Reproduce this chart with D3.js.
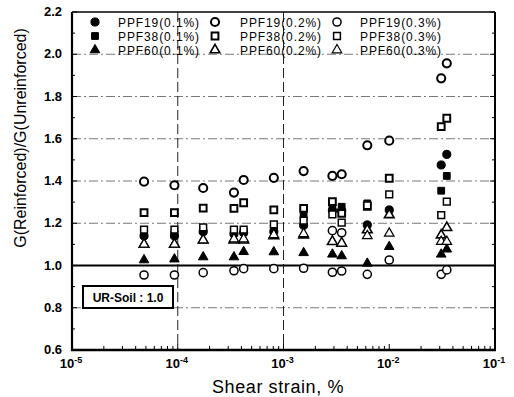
<!DOCTYPE html>
<meta charset="utf-8">
<style>
body { margin: 0; background: #fff; }
text { font-family: "Liberation Sans", Arial, sans-serif; }
.tick-label { font-size: 13px; font-weight: bold; }
.legend text { font-size: 12px; letter-spacing: 0.9px; }
.grid-h { stroke: #555; stroke-width: 0.8; stroke-dasharray: 9,3,2,3; }
.grid-v { stroke: #222; stroke-width: 1; stroke-dasharray: 10,4; }
</style>
<svg width="514" height="397"></svg>
<script src="https://d3js.org/d3.v7.min.js"></script>
<script>

// strains (%) at which each series was measured
var strain = [4.8e-5, 9.3e-5, 1.74e-4, 3.4e-4, 4.2e-4, 8.1e-4, 1.55e-3, 2.9e-3, 3.55e-3, 6.2e-3, 1.0e-2, 3.1e-2, 3.5e-2];

var ppf19_01 = [1.14, 1.14, 1.16, 1.15, 1.155, 1.16, 1.19, 1.26, 1.26, 1.192, 1.263, 1.476, 1.526];
var ppf19_02 = [1.397, 1.38, 1.367, 1.345, 1.405, 1.415, 1.447, 1.424, 1.432, 1.569, 1.591, 1.886, 1.957];
var ppf19_03 = [0.955, 0.955, 0.966, 0.975, 0.985, 0.985, 0.987, 0.968, 0.974, 0.958, 1.026, 0.958, 0.979];
var ppf19_03b_strain = [2.9e-3, 3.55e-3];
var ppf19_03b = [1.165, 1.155];

var ppf38_01 = [1.15, 1.15, 1.165, 1.155, 1.16, 1.17, 1.234, 1.27, 1.278, 1.294, null, 1.354, 1.424];
var ppf38_02 = [1.25, 1.25, 1.272, 1.27, 1.297, 1.263, 1.27, 1.302, 1.247, 1.28, 1.413, 1.657, 1.697];
var ppf38_03 = [1.17, 1.17, 1.18, 1.17, 1.17, 1.195, 1.212, 1.242, 1.203, 1.285, 1.337, 1.238, 1.302];

var ppf60_01 = [1.026, 1.03, 1.04, 1.04, 1.065, 1.064, 1.06, 1.053, 1.045, 1.01, 1.089, 1.053, 1.077];
var ppf60_02 = [1.10, 1.10, 1.12, 1.12, 1.12, 1.14, 1.144, 1.113, 1.105, 1.168, 1.24, 1.144, 1.179];
var ppf60_03 = [1.10, 1.10, 1.12, 1.125, 1.125, 1.145, 1.15, 1.113, 1.105, 1.14, 1.152, 1.113, 1.113];

var yTicks = [0.6, 0.8, 1.0, 1.2, 1.4, 1.6, 1.8, 2.0, 2.2];
var xDecades = [-5, -4, -3, -2, -1];

var svg = d3.select("svg");

var x = d3.scaleLog().domain([1e-5, 1e-1]).range([72, 495]);
var y = d3.scaleLinear().domain([0.6, 2.2]).range([350, 12]);

var sym = {
  circle: d3.symbol().type(d3.symbolCircle).size(52)(),
  square: d3.symbol().type(d3.symbolSquare).size(46)(),
  triangle: d3.symbol().type(d3.symbolTriangle).size(40)()
};

var series = [
  { name: "PPF19(0.1%)", xs: strain, ys: ppf19_01, shape: "circle", fill: true, sw: 1 },
  { name: "PPF19(0.2%)", xs: strain, ys: ppf19_02, shape: "circle", fill: false, sw: 2 },
  { name: "PPF19(0.3%)", xs: strain.concat(ppf19_03b_strain), ys: ppf19_03.concat(ppf19_03b), shape: "circle", fill: false, sw: 1.5 },
  { name: "PPF38(0.1%)", xs: strain, ys: ppf38_01, shape: "square", fill: true, sw: 1 },
  { name: "PPF38(0.2%)", xs: strain, ys: ppf38_02, shape: "square", fill: false, sw: 2 },
  { name: "PPF38(0.3%)", xs: strain, ys: ppf38_03, shape: "square", fill: false, sw: 1.5 },
  { name: "PPF60(0.1%)", xs: strain, ys: ppf60_01, shape: "triangle", fill: true, sw: 1 },
  { name: "PPF60(0.2%)", xs: strain, ys: ppf60_02, shape: "triangle", fill: false, sw: 1.6 },
  { name: "PPF60(0.3%)", xs: strain, ys: ppf60_03, shape: "triangle", fill: false, sw: 1.2 }
];

// horizontal grid (dash-dot)
svg.append("g").selectAll("line")
  .data(yTicks.filter(function(d) { return d > 0.6 && d < 2.2 && d !== 1.0; }))
  .enter().append("line")
    .attr("class", "grid-h")
    .attr("x1", x.range()[0]).attr("x2", x.range()[1])
    .attr("y1", function(d) { return y(d); }).attr("y2", function(d) { return y(d); });

// vertical dashed lines
svg.append("g").selectAll("line")
  .data([1e-4, 1e-3])
  .enter().append("line")
    .attr("class", "grid-v")
    .attr("x1", function(d) { return x(d); }).attr("x2", function(d) { return x(d); })
    .attr("y1", y(2.2)).attr("y2", y(0.6));

// reference line at 1.0
svg.append("line")
  .attr("x1", x.range()[0]).attr("x2", x.range()[1])
  .attr("y1", y(1.0)).attr("y2", y(1.0))
  .attr("stroke", "#000").attr("stroke-width", 2);

// ticks inside the frame
var yMinor = d3.range(0.6, 2.21, 0.1);
var ticks = svg.append("g").attr("stroke", "#000").attr("stroke-width", 1);
yMinor.forEach(function(v, i) {
  var len = (i % 2 === 0) ? 5 : 3;
  ticks.append("line").attr("x1", x.range()[0]).attr("x2", x.range()[0] + len)
    .attr("y1", y(v)).attr("y2", y(v));
  ticks.append("line").attr("x1", x.range()[1]).attr("x2", x.range()[1] - len)
    .attr("y1", y(v)).attr("y2", y(v));
});
xDecades.forEach(function(e) {
  for (var k = 1; k <= 9; k++) {
    var v = k * Math.pow(10, e);
    if (v > 1e-1) break;
    var len = k === 1 ? 6 : 4;
    ticks.append("line").attr("x1", x(v)).attr("x2", x(v))
      .attr("y1", y(0.6)).attr("y2", y(0.6) - len);
  }
});

// frame
svg.append("line").attr("x1", 72).attr("x2", 72).attr("y1", y(2.2)).attr("y2", y(0.6) + 1)
  .attr("stroke", "#000").attr("stroke-width", 2.2);
svg.append("line").attr("x1", 71).attr("x2", x.range()[1] + 1).attr("y1", y(0.6)).attr("y2", y(0.6))
  .attr("stroke", "#000").attr("stroke-width", 2.6);
svg.append("line").attr("x1", x.range()[1]).attr("x2", x.range()[1]).attr("y1", y(2.2)).attr("y2", y(0.6))
  .attr("stroke", "#000").attr("stroke-width", 2);
svg.append("line").attr("x1", 72).attr("x2", x.range()[1]).attr("y1", y(2.2)).attr("y2", y(2.2))
  .attr("stroke", "#000").attr("stroke-width", 1.5);

// y tick labels
svg.append("g").selectAll("text")
  .data(yTicks)
  .enter().append("text")
    .attr("class", "tick-label")
    .attr("x", 62)
    .attr("y", function(d) { return y(d) + 4; })
    .attr("text-anchor", "end")
    .text(function(d) { return d.toFixed(1); });

// x tick labels with superscripts
var xl = svg.append("g").selectAll("text")
  .data(xDecades)
  .enter().append("text")
    .attr("class", "tick-label")
    .attr("x", function(d) { return x(Math.pow(10, d)) - 1; })
    .attr("y", 368)
    .attr("text-anchor", "middle");
xl.append("tspan").text("10");
xl.append("tspan").attr("dy", -5).attr("font-size", "9px").text(function(d) { return String(d); });

// axis titles
svg.append("text")
  .attr("x", 278).attr("y", 393)
  .attr("text-anchor", "middle")
  .attr("font-size", "18px")
  .attr("letter-spacing", "0.6px")
  .text("Shear strain,  %");

svg.append("text")
  .attr("transform", "translate(26,138) rotate(-90)")
  .attr("text-anchor", "middle")
  .attr("font-size", "16px")
  .text("G(Reinforced)/G(Unreinforced)");

// UR-Soil box
var ur = svg.append("g");
ur.append("rect")
  .attr("x", 83).attr("y", 286).attr("width", 90).attr("height", 22)
  .attr("fill", "#fff").attr("stroke", "#000").attr("stroke-width", 2);
ur.append("text")
  .attr("x", 128).attr("y", 302)
  .attr("text-anchor", "middle")
  .attr("font-size", "12px").attr("font-weight", "bold")
  .text("UR-Soil : 1.0");

// data points
series.forEach(function(s) {
  var pts = s.xs.map(function(v, i) { return [v, s.ys[i]]; })
    .filter(function(p) { return p[1] != null; });
  svg.append("g").selectAll("path")
    .data(pts)
    .enter().append("path")
      .attr("d", sym[s.shape])
      .attr("transform", function(p) { return "translate(" + x(p[0]) + "," + y(p[1]) + ")"; })
      .attr("fill", s.fill ? "#000" : "#fff")
      .attr("stroke", "#000")
      .attr("stroke-width", s.sw);
});

// legend
var legend = svg.append("g").attr("class", "legend");
var colX = [95, 215, 337], textX = [118, 240, 360], rowY = [22, 36, 50];
series.forEach(function(s, i) {
  var col = i % 3, row = Math.floor(i / 3);
  legend.append("path")
    .attr("d", sym[s.shape])
    .attr("transform", "translate(" + colX[col] + "," + rowY[row] + ")")
    .attr("fill", s.fill ? "#000" : "#fff")
    .attr("stroke", "#000")
    .attr("stroke-width", s.sw);
  legend.append("text")
    .attr("x", textX[col]).attr("y", rowY[row] + 4.5)
    .text(s.name);
});

</script>
